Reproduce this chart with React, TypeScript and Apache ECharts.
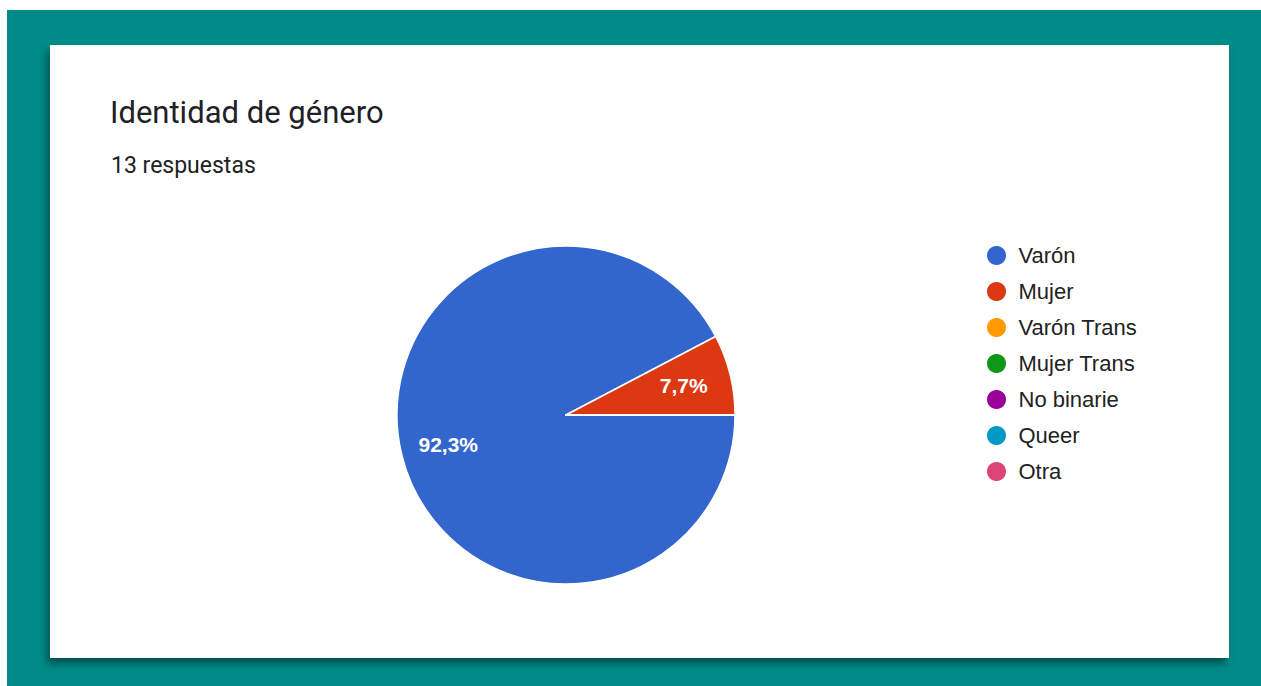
import React, { useEffect, useRef } from "react";
import * as echarts from "echarts";

const titleText = "Identidad de género";
const subtitleText = "13 respuestas";
const categories = ["Varón", "Mujer", "Varón Trans", "Mujer Trans", "No binarie", "Queer", "Otra"];
const counts = [12, 1, 0, 0, 0, 0, 0];
const colors = ["#3366cc", "#dc3912", "#ff9900", "#109618", "#990099", "#0099c6", "#dd4477"];

export default function App() {
  const ref = useRef<HTMLDivElement>(null);
  useEffect(() => {
    if (!ref.current) return;
    const chart = echarts.init(ref.current, undefined, { renderer: "svg" });
    const data = categories.map((name, i) => ({ name, value: counts[i], itemStyle: { color: colors[i] } }));
    const R = 169;
    chart.setOption({
      animation: false,
      color: colors,
      title: [
        {
          text: titleText,
          left: 55,
          top: 47,
          textStyle: { fontFamily: "Roboto", fontSize: 31, fontWeight: "normal", color: "#202124" },
        },
        {
          text: subtitleText,
          left: 56,
          top: 104,
          textStyle: { fontFamily: "Roboto", fontSize: 23, fontWeight: "normal", color: "#202124" },
        },
      ],
      legend: {
        orient: "vertical",
        left: 930,
        top: 194,
        icon: "circle",
        itemWidth: 34,
        itemHeight: 21,
        itemGap: 13,
        selectedMode: false,
        data: categories,
        textStyle: { fontFamily: "Liberation Sans", fontSize: 22, lineHeight: 22, color: "#222222" },
      },
      series: [
        {
          type: "pie",
          center: [516, 370],
          radius: [0, R],
          startAngle: 0,
          clockwise: true,
          silent: true,
          label: { show: false },
          labelLine: { show: false },
          itemStyle: { borderColor: "#ffffff", borderWidth: 1.5 },
          data,
        },
        {
          type: "pie",
          center: [516, 370],
          radius: [R * 0.4, R],
          startAngle: 0,
          clockwise: true,
          silent: true,
          percentPrecision: 1,
          itemStyle: { color: "rgba(0,0,0,0)", borderWidth: 0 },
          emphasis: { disabled: true },
          labelLine: { show: false },
          label: {
            show: true,
            position: "inside",
            color: "#ffffff",
            fontFamily: "Liberation Sans",
            fontSize: 21,
            fontWeight: "bold",
            formatter: (p: any) => (p.value > 0 ? String(p.percent.toFixed(1)).replace(".", ",") + "%" : ""),
          },
          data: categories.map((name, i) => ({ name, value: counts[i] })),
        },
      ],
    });
    return () => chart.dispose();
  }, []);

  return (
    <div style={{ position: "fixed", left: 0, top: 0, width: 1261, height: 686, background: "#ffffff", overflow: "hidden" }}>
      <div style={{ position: "absolute", left: 7, top: 10, width: 1254, height: 676, background: "#008b88" }} />
      <div
        style={{
          position: "absolute",
          left: 50,
          top: 45,
          width: 1179,
          height: 613,
          background: "#ffffff",
          boxShadow: "-3px 6px 7px rgba(0,40,40,0.55)",
        }}
      >
        <div ref={ref} style={{ width: 1179, height: 613 }} />
      </div>
    </div>
  );
}
